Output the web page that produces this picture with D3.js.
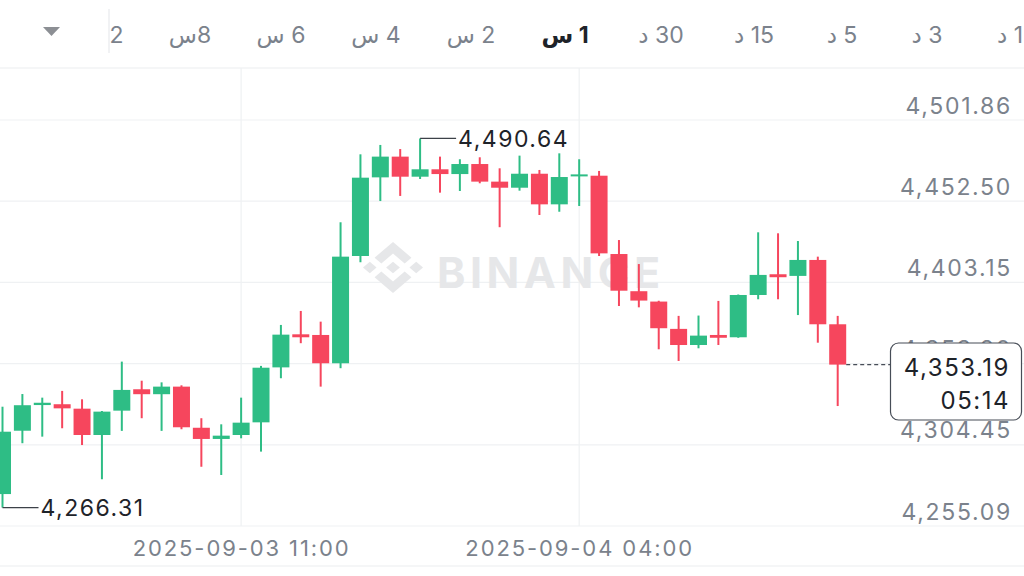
<!DOCTYPE html>
<html>
<head>
<meta charset="utf-8">
<script src="https://cdn.jsdelivr.net/npm/d3@7/dist/d3.min.js"></script>
<style>
  html, body { margin: 0; padding: 0; background: #ffffff; }
  svg { display: block; }
</style>
</head>
<body>
<svg id="chart" width="1024" height="576"></svg>
<script>
// ---------------- data ----------------
const times = [
  "2025-09-02T23:00","2025-09-03T00:00","2025-09-03T01:00","2025-09-03T02:00","2025-09-03T03:00",
  "2025-09-03T04:00","2025-09-03T05:00","2025-09-03T06:00","2025-09-03T07:00","2025-09-03T08:00",
  "2025-09-03T09:00","2025-09-03T10:00","2025-09-03T11:00","2025-09-03T12:00","2025-09-03T13:00",
  "2025-09-03T14:00","2025-09-03T15:00","2025-09-03T16:00","2025-09-03T17:00","2025-09-03T18:00",
  "2025-09-03T19:00","2025-09-03T20:00","2025-09-03T21:00","2025-09-03T22:00","2025-09-03T23:00",
  "2025-09-04T00:00","2025-09-04T01:00","2025-09-04T02:00","2025-09-04T03:00","2025-09-04T04:00",
  "2025-09-04T05:00","2025-09-04T06:00","2025-09-04T07:00","2025-09-04T08:00","2025-09-04T09:00",
  "2025-09-04T10:00","2025-09-04T11:00","2025-09-04T12:00","2025-09-04T13:00","2025-09-04T14:00",
  "2025-09-04T15:00","2025-09-04T16:00","2025-09-04T17:00"
];
const opens = [4274.5,4313.0,4328.6,4329.1,4326.4,4310.4,4325.2,4338.2,4335.2,4339.8,
  4314.8,4308.0,4310.4,4318.1,4351.5,4371.6,4371.2,4354.0,4419.2,4467.0,
  4479.6,4467.4,4471.9,4469.0,4475.1,4464.4,4460.7,4469.2,4450.6,4467.8,
  4468.0,4420.4,4397.8,4391.5,4374.9,4365.1,4371.2,4369.8,4395.5,4408.1,
  4407.1,4416.8,4377.7];
const highs = [4327.6,4335.3,4333.1,4337.2,4332.1,4325.0,4355.0,4343.4,4342.4,4340.6,
  4320.6,4316.9,4333.1,4352.4,4377.3,4385.8,4379.3,4439.7,4481.0,4486.7,
  4484.2,4490.64,4479.6,4478.0,4479.2,4472.5,4480.2,4471.5,4481.6,4478.0,
  4470.9,4428.9,4414.3,4392.0,4382.8,4383.0,4391.9,4395.8,4433.6,4433.0,
  4428.3,4418.8,4382.8];
const lows = [4266.31,4305.4,4309.4,4314.5,4304.3,4283.5,4312.9,4320.6,4312.9,4313.9,
  4291.1,4286.1,4308.4,4300.3,4344.9,4366.2,4339.8,4351.0,4415.4,4452.6,
  4455.7,4466.0,4457.7,4458.7,4463.4,4436.7,4458.9,4444.1,4446.1,4449.6,
  4419.2,4388.8,4388.0,4362.5,4355.4,4363.1,4365.1,4369.5,4392.9,4392.9,
  4383.3,4366.5,4328.0];
const closes = [4312.4,4328.5,4330.0,4326.6,4310.4,4324.6,4337.8,4335.2,4339.8,4315.1,
  4308.0,4310.0,4317.9,4351.3,4371.4,4369.8,4354.0,4418.8,4466.8,4479.6,
  4467.4,4471.9,4469.0,4475.1,4464.4,4460.7,4469.2,4450.6,4467.2,4468.8,
  4420.8,4398.1,4392.1,4375.3,4365.1,4370.8,4369.5,4395.5,4407.7,4406.3,
  4416.8,4377.7,4353.19];
const priceTicks = [4255.09, 4304.45, 4353.80, 4403.15, 4452.50, 4501.86];
const timeTicks = ["2025-09-03T11:00", "2025-09-04T04:00"];
const intervals = ["2", "8س", "6 س", "4 س", "2 س", "1 س", "30 د", "15 د", "5 د", "3 د", "1 د"];
const selectedInterval = "1 س";
const lastPrice = 4353.19;
const countdown = "05:14";
const highLabel = "4,490.64";
const lowLabel = "4,266.31";

// ---------------- setup ----------------
const parse = d3.timeParse("%Y-%m-%dT%H:%M");
const candles = times.map((t, i) => ({
  t: parse(t), o: opens[i], h: highs[i], l: lows[i], c: closes[i]
}));
const fmt = d3.format(",.2f");
const fmtTime = d3.timeFormat("%Y-%m-%d %H:%M");

const svg = d3.select("#chart");
const W = 1024, H = 576;
const GREEN = "#2ebd85", RED = "#f6465d";
const GRID = "#eff1f3";
const AXIS_TXT = "#7b828c";
const FONT = "Inter, 'DejaVu Sans', sans-serif";

const x = d3.scaleTime()
  .domain([candles[0].t, candles[candles.length - 1].t])
  .range([2.5, 837.7]);
const y = d3.scaleLinear()
  .domain([4255.09, 4501.86])
  .range([526, 120]);
const bodyW = 17;

svg.append("rect").attr("width", W).attr("height", H).attr("fill", "#fff");

// ---------------- top interval bar ----------------
const bar = svg.append("g");
const barX = [117, 190, 281, 376, 471, 565, 661, 754, 842, 927, 1010];
bar.append("path")
  .attr("d", "M43,27 L60,27 L51.5,36 Z")
  .attr("fill", "#8c8f94");
bar.append("line").attr("x1", 109).attr("x2", 109).attr("y1", 9).attr("y2", 53)
  .attr("stroke", "#eceef0").attr("stroke-width", 1.5);
bar.selectAll("text.iv").data(intervals).join("text")
  .attr("class", "iv")
  .attr("x", (d, i) => barX[i])
  .attr("y", 43)
  .attr("text-anchor", "middle")
  .attr("direction", "rtl")
  .attr("font-family", FONT)
  .attr("font-size", 23)
  .attr("letter-spacing", 1.2)
  .attr("font-weight", d => d === selectedInterval ? 700 : 400)
  .attr("fill", d => d === selectedInterval ? "#1e2329" : AXIS_TXT)
  .text(d => d);
svg.append("line").attr("x1", 0).attr("x2", W).attr("y1", 68).attr("y2", 68)
  .attr("stroke", "#eceef0").attr("stroke-width", 1.2);

// ---------------- grid ----------------
const grid = svg.append("g");
grid.selectAll("line.h").data(priceTicks).join("line")
  .attr("class", "h")
  .attr("x1", 0).attr("x2", W)
  .attr("y1", d => y(d)).attr("y2", d => y(d))
  .attr("stroke", GRID).attr("stroke-width", 1.2);
grid.selectAll("line.v").data(timeTicks.map(parse)).join("line")
  .attr("class", "v")
  .attr("x1", d => x(d)).attr("x2", d => x(d))
  .attr("y1", 68).attr("y2", 526)
  .attr("stroke", GRID).attr("stroke-width", 1.2);
svg.append("line").attr("x1", 0).attr("x2", W).attr("y1", 566).attr("y2", 566)
  .attr("stroke", "#eceef0").attr("stroke-width", 1.2);

// ---------------- watermark ----------------
const wm = svg.append("g").attr("fill", "#e6e7e9");
wm.append("path")
  .attr("transform", "translate(363,242) scale(" + (60 / 126.61) + "," + (51 / 126.61) + ")")
  .attr("d", "M38.73 53.2L63.32 28.62 87.93 53.22 102.24 38.91 63.32 0 24.42 38.9ZM0 63.31L14.3 49 28.61 63.31 14.3 77.61ZM38.73 73.41L63.32 98 87.92 73.4 102.23 87.69 63.32 126.6 24.41 87.72ZM98 63.31L112.3 49 126.61 63.3 112.3 77.62ZM77.83 63.3L63.32 48.78 48.81 63.28 63.32 77.81Z");
wm.append("text")
  .attr("x", 437).attr("y", 288)
  .attr("font-family", FONT).attr("font-weight", 700)
  .attr("font-size", 43).attr("letter-spacing", 4.5)
  .text("BINANCE");

// ---------------- candles ----------------
const cg = svg.append("g");
const col = d => d.c >= d.o ? GREEN : RED;
cg.selectAll("line.wick").data(candles).join("line")
  .attr("class", "wick")
  .attr("x1", d => x(d.t)).attr("x2", d => x(d.t))
  .attr("y1", d => y(d.h)).attr("y2", d => y(d.l))
  .attr("stroke", col).attr("stroke-width", 2);
cg.selectAll("rect.body").data(candles).join("rect")
  .attr("class", "body")
  .attr("x", d => x(d.t) - bodyW / 2)
  .attr("width", bodyW)
  .attr("y", d => y(Math.max(d.o, d.c)))
  .attr("height", d => Math.max(2, Math.abs(y(d.o) - y(d.c))))
  .attr("fill", col);

// ---------------- y axis labels ----------------
const yAxis = d3.axisRight(y).tickValues(priceTicks).tickSize(0).tickFormat(fmt);
const ya = svg.append("g").attr("transform", "translate(1012,0)").call(yAxis);
ya.select(".domain").remove();
ya.selectAll("text")
  .attr("x", 0).attr("dy", "-0.3em")
  .attr("text-anchor", "end")
  .attr("font-family", FONT).attr("font-size", 23)
  .attr("letter-spacing", 1.7)
  .attr("fill", AXIS_TXT);

// ---------------- x axis labels ----------------
const xAxis = d3.axisBottom(x).tickValues(timeTicks.map(parse)).tickSize(0).tickFormat(fmtTime);
const xa = svg.append("g").attr("transform", "translate(0,540)").call(xAxis);
xa.select(".domain").remove();
xa.selectAll("text")
  .attr("y", 0).attr("dy", "0.71em")
  .attr("font-family", FONT).attr("font-size", 22)
  .attr("letter-spacing", 1.9)
  .attr("fill", AXIS_TXT);

// ---------------- high / low markers ----------------
const hiIdx = d3.maxIndex(candles, d => d.h);
const loIdx = d3.minIndex(candles, d => d.l);
const mk = svg.append("g");
function marker(d, val, label) {
  const px = x(d.t), py = y(val);
  mk.append("line").attr("x1", px).attr("x2", px + 36).attr("y1", py).attr("y2", py)
    .attr("stroke", "#3c4148").attr("stroke-width", 1.3);
  mk.append("text").attr("x", px + 38).attr("y", py).attr("dy", "0.36em")
    .attr("font-family", FONT).attr("font-size", 23).attr("letter-spacing", 1.5)
    .attr("fill", "#1e2329").text(label);
}
marker(candles[hiIdx], candles[hiIdx].h, highLabel);
marker(candles[loIdx], candles[loIdx].l, lowLabel);

// ---------------- last price ----------------
const last = candles[candles.length - 1];
const ly = y(lastPrice);
svg.append("line")
  .attr("x1", x(last.t) + bodyW / 2).attr("x2", 890)
  .attr("y1", ly).attr("y2", ly)
  .attr("stroke", "#474d57").attr("stroke-width", 1.2)
  .attr("stroke-dasharray", "4,3");
svg.append("rect")
  .attr("x", 890.5).attr("y", 343).attr("width", 131).attr("height", 77).attr("rx", 8)
  .attr("fill", "#fff").attr("stroke", "#474d57").attr("stroke-width", 1.2);
svg.append("text").attr("x", 1010).attr("y", 376).attr("text-anchor", "end")
  .attr("font-family", FONT).attr("font-size", 24).attr("letter-spacing", 1.5)
  .attr("fill", "#1e2329").text(fmt(lastPrice));
svg.append("text").attr("x", 1010).attr("y", 409).attr("text-anchor", "end")
  .attr("font-family", FONT).attr("font-size", 24).attr("letter-spacing", 1.5)
  .attr("fill", "#1e2329").text(countdown);
</script>
</body>
</html>
